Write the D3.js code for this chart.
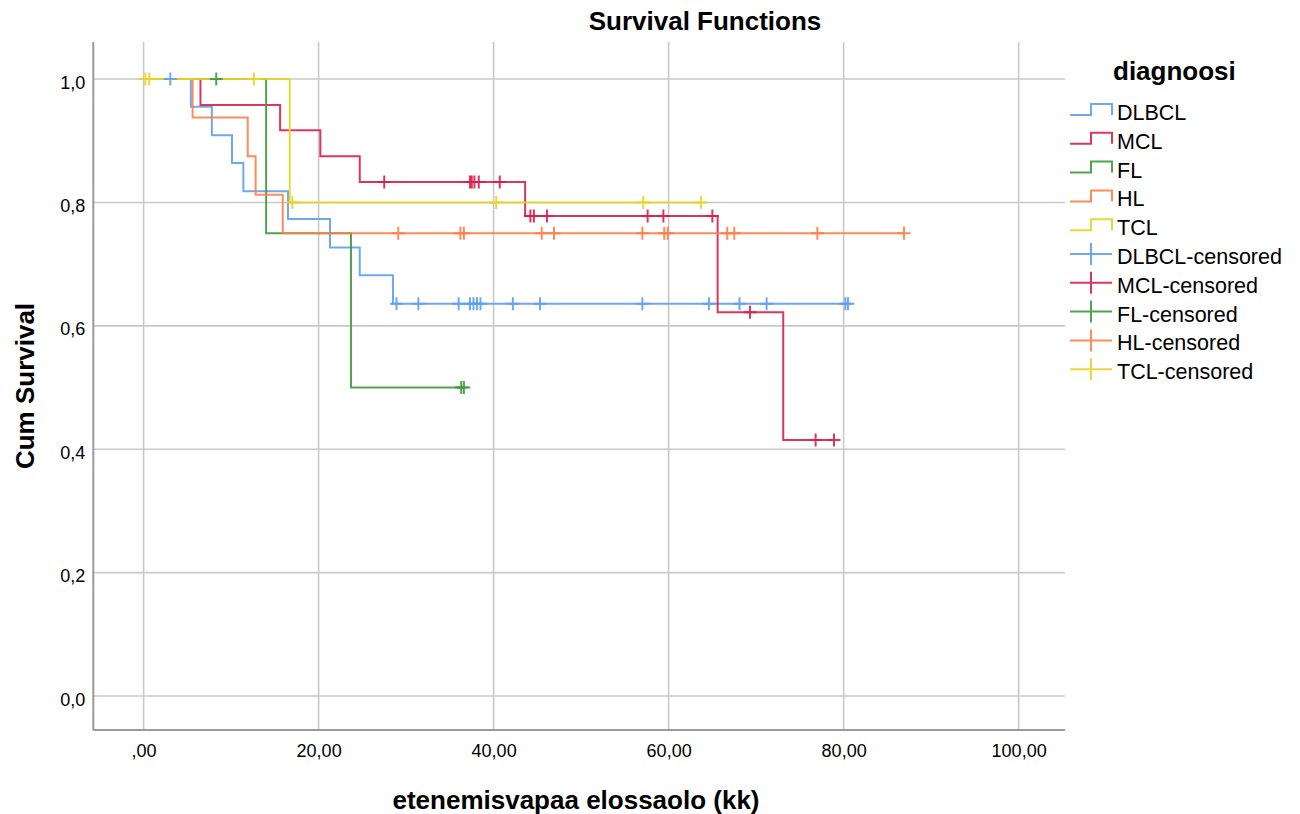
<!DOCTYPE html>
<html>
<head>
<meta charset="utf-8">
<script src="https://cdn.jsdelivr.net/npm/d3@7"></script>
<style>
  body { margin: 0; background: #fff; }
  text { font-family: "Liberation Sans", Arial, sans-serif; fill: #000; }
</style>
</head>
<body>
<svg id="chart" width="1300" height="814"></svg>
<script>
"use strict";

// groups in legend order
var groups = ["DLBCL", "MCL", "FL", "HL", "TCL"];
var colors = ["#5e9fec", "#d81f4d", "#3d9a3d", "#ff7e48", "#e4d525"];

// event times (kk) and survival after each step
var dlbclEvents = [[5.4, 0.955], [7.8, 0.909], [10.1, 0.864], [11.4, 0.818], [16.5, 0.773], [21.3, 0.727], [24.7, 0.682], [28.5, 0.636]];
var mclEvents = [[6.5, 0.958], [15.6, 0.917], [20.2, 0.875], [24.7, 0.833], [43.6, 0.778], [65.6, 0.622], [73.1, 0.415]];
var flEvents = [[14.0, 0.75], [23.7, 0.5]];
var hlEvents = [[5.6, 0.9375], [11.9, 0.875], [12.8, 0.8125], [15.9, 0.75]];
var tclEvents = [[16.7, 0.8]];

// censored times (kk)
var dlbclCensored = [3.05, 28.9, 31.4, 36.0, 37.3, 37.7, 38.1, 38.5, 42.2, 45.3, 57.0, 64.6, 68.1, 71.2, 80.2, 80.5];
var mclCensored = [27.5, 37.3, 37.5, 37.8, 38.3, 40.7, 44.2, 44.6, 46.1, 57.6, 59.4, 65.0, 69.3, 76.8, 78.9];
var flCensored = [8.3, 36.3, 36.6];
var hlCensored = [29.1, 36.2, 36.6, 45.5, 46.9, 57.0, 59.5, 59.9, 66.7, 67.5, 77.0, 86.9];
var tclCensored = [0.2, 0.65, 12.6, 17.0, 40.3, 57.1, 63.7];

var xTicks = [0, 20, 40, 60, 80, 100];
var xTickLabels = [",00", "20,00", "40,00", "60,00", "80,00", "100,00"];
var yTicks = [0, 0.2, 0.4, 0.6, 0.8, 1.0];
var yTickLabels = ["0,0", "0,2", "0,4", "0,6", "0,8", "1,0"];

var eventSets = [dlbclEvents, mclEvents, flEvents, hlEvents, tclEvents];
var censorSets = [dlbclCensored, mclCensored, flCensored, hlCensored, tclCensored];

var svg = d3.select("#chart");

var plotLeft = 93.3, plotRight = 1065, plotTop = 42, plotBottom = 730;

var x = d3.scaleLinear().domain([-5.75, 105.3]).range([plotLeft, plotRight]);
var y = d3.scaleLinear().domain([-0.055, 1.06]).range([plotBottom, plotTop]);

// gridlines
var grid = svg.append("g");

grid.selectAll(".vgrid")
  .data(xTicks)
  .enter()
  .append("line")
  .attr("class", "vgrid")
  .attr("x1", function(d){ return x(d); })
  .attr("x2", function(d){ return x(d); })
  .attr("y1", plotTop)
  .attr("y2", plotBottom)
  .attr("stroke", "#c9c9c9")
  .attr("stroke-width", 1.6);

grid.selectAll(".hgrid")
  .data(yTicks)
  .enter()
  .append("line")
  .attr("class", "hgrid")
  .attr("x1", plotLeft)
  .attr("x2", plotRight)
  .attr("y1", function(d){ return y(d); })
  .attr("y2", function(d){ return y(d); })
  .attr("stroke", "#c9c9c9")
  .attr("stroke-width", 1.6);

// axes
var xAxis = d3.axisBottom(x)
  .tickValues(xTicks)
  .tickSize(0)
  .tickPadding(14)
  .tickFormat(function(d, i){ return xTickLabels[i]; });

var yAxis = d3.axisLeft(y)
  .tickValues(yTicks)
  .tickSize(0)
  .tickPadding(8)
  .tickFormat(function(d, i){ return yTickLabels[i]; });

var gx = svg.append("g")
  .attr("transform", "translate(0," + plotBottom + ")")
  .call(xAxis);
gx.select(".domain").remove();
gx.selectAll("text")
  .attr("font-size", 18)
  .attr("font-family", "Liberation Sans, Arial, sans-serif")
  .attr("fill", "#111");

var gy = svg.append("g")
  .attr("transform", "translate(" + plotLeft + ",0)")
  .call(yAxis);
gy.select(".domain").remove();
gy.selectAll("text")
  .attr("font-size", 18)
  .attr("font-family", "Liberation Sans, Arial, sans-serif")
  .attr("fill", "#111")
  .attr("dy", "0.5em");

svg.append("line")
  .attr("x1", plotLeft).attr("x2", plotLeft)
  .attr("y1", plotTop).attr("y2", plotBottom)
  .attr("stroke", "#9a9a9a").attr("stroke-width", 2);

svg.append("line")
  .attr("x1", plotLeft).attr("x2", plotRight)
  .attr("y1", plotBottom).attr("y2", plotBottom)
  .attr("stroke", "#9a9a9a").attr("stroke-width", 2);

// survival curves
var stepLine = d3.line()
  .x(function(d){ return x(d[0]); })
  .y(function(d){ return y(d[1]); })
  .curve(d3.curveStepAfter);

function survivalAt(events, t){
  var s = 1;
  for(var i = 0; i < events.length; i++){
    if(events[i][0] <= t) s = events[i][1];
  }
  return s;
}

var curves = svg.append("g");

groups.forEach(function(name, i){
  var events = eventSets[i];
  var censored = censorSets[i];
  var last = events[events.length - 1];
  var tEnd = Math.max(last[0], d3.max(censored));
  var pts = [[0, 1]].concat(events).concat([[tEnd, last[1]]]);

  curves.append("path")
    .datum(pts)
    .attr("d", stepLine)
    .attr("fill", "none")
    .attr("stroke", colors[i])
    .attr("stroke-opacity", 0.9)
    .attr("stroke-width", 2);
});

var marks = svg.append("g");

groups.forEach(function(name, i){
  var events = eventSets[i];
  marks.selectAll(".c" + i)
    .data(censorSets[i])
    .enter()
    .append("path")
    .attr("class", "c" + i)
    .attr("d", function(t){
      var cx = x(t), cy = y(survivalAt(events, t));
      return "M" + (cx - 6.5) + "," + cy + "H" + (cx + 6.5) + "M" + cx + "," + (cy - 6.5) + "V" + (cy + 6.5);
    })
    .attr("fill", "none")
    .attr("stroke", colors[i])
    .attr("stroke-opacity", 0.9)
    .attr("stroke-width", 2);
});

// titles
svg.append("text")
  .attr("x", 705)
  .attr("y", 30)
  .attr("text-anchor", "middle")
  .attr("font-size", 26)
  .attr("font-weight", "bold")
  .text("Survival Functions");

svg.append("text")
  .attr("x", 576)
  .attr("y", 809)
  .attr("text-anchor", "middle")
  .attr("font-size", 26)
  .attr("font-weight", "bold")
  .text("etenemisvapaa elossaolo (kk)");

svg.append("text")
  .attr("transform", "translate(34,386) rotate(-90)")
  .attr("text-anchor", "middle")
  .attr("font-size", 26)
  .attr("font-weight", "bold")
  .text("Cum Survival");

// legend
var legend = svg.append("g");

legend.append("text")
  .attr("x", 1113)
  .attr("y", 80)
  .attr("font-size", 26)
  .attr("font-weight", "bold")
  .text("diagnoosi");

var legendItems = groups.map(function(g, i){ return {name: g, color: colors[i], censored: false}; })
  .concat(groups.map(function(g, i){ return {name: g + "-censored", color: colors[i], censored: true}; }));

var item = legend.selectAll(".legend_item")
  .data(legendItems)
  .enter()
  .append("g")
  .attr("class", "legend_item")
  .attr("transform", function(d, i){ return "translate(0," + (120 + i * 28.8) + ")"; });

item.append("path")
  .attr("d", function(d){
    if(d.censored) return "M1070,-10H1112M1091,-21V1";
    return "M1070,-5H1091V-16H1112V-5";
  })
  .attr("fill", "none")
  .attr("stroke", function(d){ return d.color; })
  .attr("stroke-opacity", 0.9)
  .attr("stroke-width", 2);

item.append("text")
  .attr("x", 1117)
  .attr("y", 0)
  .attr("font-size", 21.5)
  .text(function(d){ return d.name; });
</script>
</body>
</html>
